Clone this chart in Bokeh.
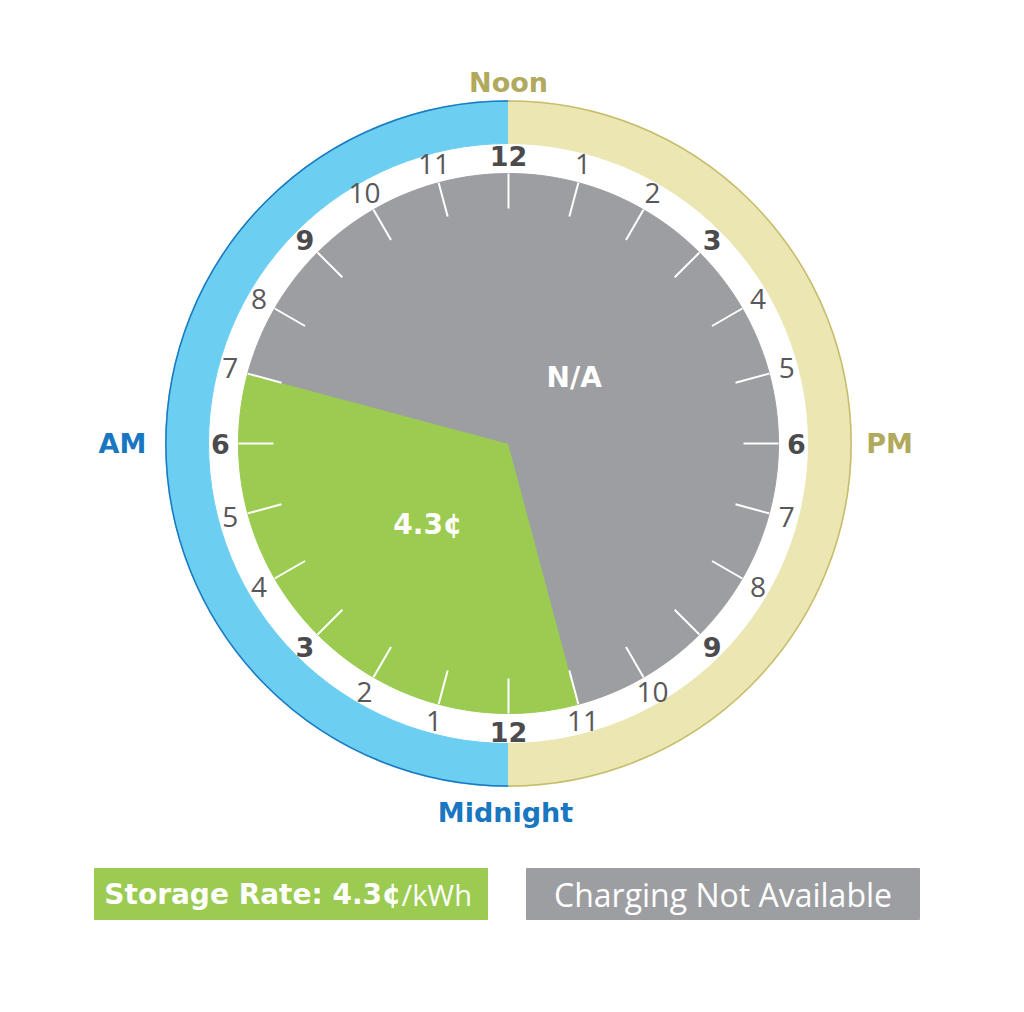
import math
from bokeh.plotting import figure
from bokeh.models import Range1d
from bokeh.core.properties import value
from bokeh.embed import file_html
from bokeh.resources import INLINE

# ---------------- data ----------------
period_names = ["Storage Rate", "Charging Not Available"]
period_start_hour = [23, 7]      # clockwise start (24h clock)
period_end_hour = [7, 23]        # clockwise end
period_labels = ["4.3¢", "N/A"]
legend_bold = ["Storage Rate: 4.3¢", ""]
legend_regular = ["/kWh", "Charging Not Available"]
hour_values = list(range(24))
hour_labels = [str(h % 12 or 12) for h in hour_values]
major_hours = [0, 3, 6, 9, 12, 15, 18, 21]
half_names = ["AM", "PM"]
edge_names = ["Noon", "Midnight"]

# ---------------- style ----------------
GREEN = "#9bcb50"
GREY = "#9d9ea2"
BLUE_RING = "#6ccff2"
BLUE_EDGE = "#1b79c0"
BEIGE_RING = "#ebe6b2"
BEIGE_EDGE = "#c5bd6c"
BLUE_TEXT = "#1877c0"
OLIVE_TEXT = "#b1a95b"
DARK = "#4b4b4d"
LIGHT_NUM = "#58585a"
HEAVY = value("DejaVu Sans")
LIGHT = value("Open Sans")
period_colors = [GREEN, GREY]

W, H = 1008, 996
IMG_H = 1012
CX, CY = 508, IMG_H - 443
R_PIE = 270
R_RING_IN, R_RING_OUT = 300, 343
R_TICK_IN = 235
R_LABEL = 288


def ang(h):
    # noon at top, clockwise, 15 degrees per hour
    return math.radians(270 - 15 * h)


p = figure(width=W, height=H, x_range=Range1d(0, W), y_range=Range1d(IMG_H - H, IMG_H),
           output_backend="svg", toolbar_location=None, min_border=0)
p.axis.visible = False
p.grid.visible = False
p.outline_line_color = None
p.background_fill_color = "white"
p.border_fill_color = "white"

# outer ring (AM left, PM right)
p.annular_wedge(x=CX, y=CY, inner_radius=R_RING_IN, outer_radius=R_RING_OUT,
                start_angle=math.pi / 2, end_angle=3 * math.pi / 2, color=BLUE_RING)
p.annular_wedge(x=CX, y=CY, inner_radius=R_RING_IN, outer_radius=R_RING_OUT,
                start_angle=-math.pi / 2, end_angle=math.pi / 2, color=BEIGE_RING)
p.arc(x=CX, y=CY, radius=R_RING_OUT - 0.5, start_angle=math.pi / 2, end_angle=3 * math.pi / 2,
      line_color=BLUE_EDGE, line_width=1.5)
p.arc(x=CX, y=CY, radius=R_RING_OUT - 0.5, start_angle=-math.pi / 2, end_angle=math.pi / 2,
      line_color=BEIGE_EDGE, line_width=1.5)

# pie wedges
p.wedge(x=[CX] * len(period_names), y=[CY] * len(period_names), radius=R_PIE,
        start_angle=[ang(e) for e in period_end_hour],
        end_angle=[ang(s) for s in period_start_hour],
        color=period_colors, direction="anticlock")

# ticks
p.segment(x0=[CX + R_TICK_IN * math.cos(ang(h)) for h in hour_values],
          y0=[CY + R_TICK_IN * math.sin(ang(h)) for h in hour_values],
          x1=[CX + R_PIE * math.cos(ang(h)) for h in hour_values],
          y1=[CY + R_PIE * math.sin(ang(h)) for h in hour_values],
          line_color="white", line_width=2)

# hour labels
hs = [h for h in hour_values if h in major_hours]
p.text(x=[CX + R_LABEL * math.cos(ang(h)) for h in hs],
       y=[CY + R_LABEL * math.sin(ang(h)) for h in hs],
       text=[hour_labels[h] for h in hs],
       text_font=HEAVY, text_font_size="27px", text_font_style="bold",
       text_color=DARK, text_align="center", text_baseline="middle")
hs = [h for h in hour_values if h not in major_hours]
p.text(x=[CX + R_LABEL * math.cos(ang(h)) for h in hs],
       y=[CY + R_LABEL * math.sin(ang(h)) + 1 for h in hs],
       text=[hour_labels[h] for h in hs],
       text_font=LIGHT, text_font_size="28px",
       text_color=LIGHT_NUM, text_align="center", text_baseline="middle")

# wedge labels
label_r = [114, 93]
for i, lab in enumerate(period_labels):
    s, e = period_start_hour[i], period_end_hour[i]
    span = (e - s) % 24
    mid = s + span / 2
    a = ang(mid)
    p.text(x=[CX + label_r[i] * math.cos(a)], y=[CY + label_r[i] * math.sin(a)], text=[lab],
           text_font=HEAVY, text_font_size="28px", text_font_style="bold",
           text_color="white", text_align="center", text_baseline="middle")

# ring names
p.text(x=[CX, CX - 3], y=[IMG_H - 82, IMG_H - 812], text=edge_names,
       text_font=HEAVY, text_font_size="27px", text_font_style="bold",
       text_color=[OLIVE_TEXT, BLUE_TEXT], text_align="center", text_baseline="middle")
p.text(x=[122, 889], y=[CY, CY], text=half_names,
       text_font=HEAVY, text_font_size="27px", text_font_style="bold",
       text_color=[BLUE_TEXT, OLIVE_TEXT], text_align="center", text_baseline="middle")

# legend boxes
box_left = [94, 526]
box_w = 393
box_top, box_bot = IMG_H - 868, IMG_H - 919
p.quad(left=box_left, right=[b + box_w for b in box_left], top=box_top, bottom=box_bot,
       color=period_colors)
ty = (box_top + box_bot) / 2
p.text(x=[401], y=[ty], text=[legend_bold[0]], text_font=HEAVY,
       text_font_size="28px", text_font_style="bold", text_color="white",
       text_align="right", text_baseline="middle")
p.text(x=[401], y=[ty], text=[legend_regular[0]], text_font=LIGHT,
       text_font_size="29px", text_color="white", text_align="left", text_baseline="middle")
p.text(x=[box_left[1] + box_w / 2], y=[ty], text=[legend_regular[1]], text_font=LIGHT,
       text_font_size="32px", text_color="white", text_align="center", text_baseline="middle")

open("out.html", "w").write(file_html(p, INLINE))
